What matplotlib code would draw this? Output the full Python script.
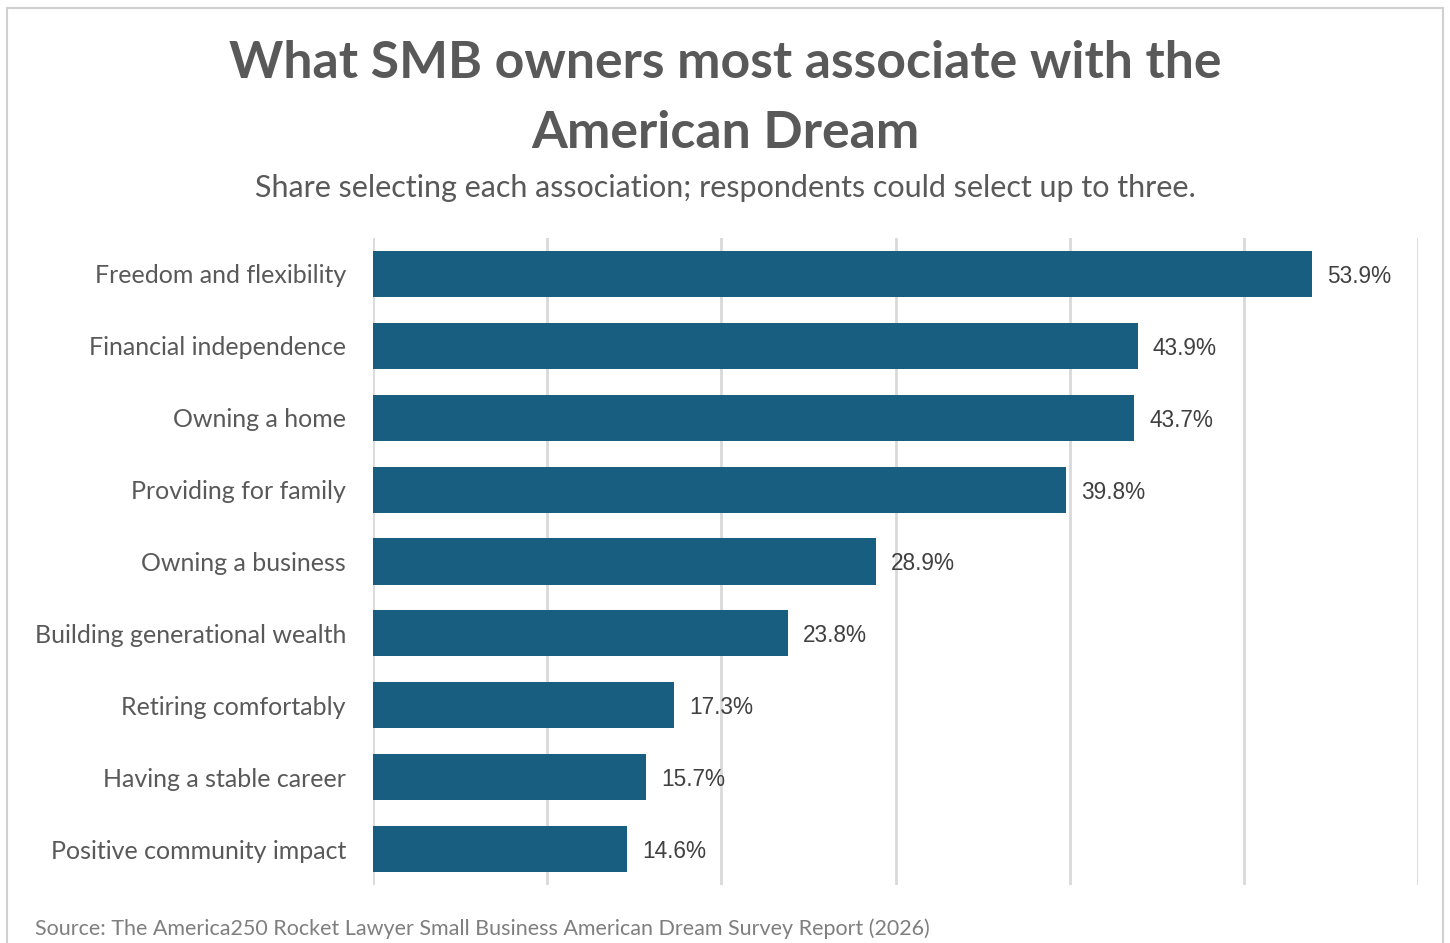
import matplotlib
matplotlib.use("Agg")
import matplotlib.pyplot as plt
from matplotlib.patches import Rectangle

# survey results, share of SMB owners (%)
categories = [
    "Freedom and flexibility",
    "Financial independence",
    "Owning a home",
    "Providing for family",
    "Owning a business",
    "Building generational wealth",
    "Retiring comfortably",
    "Having a stable career",
    "Positive community impact",
]
shares = [53.9, 43.9, 43.7, 39.8, 28.9, 23.8, 17.3, 15.7, 14.6]
x_ticks = [0, 10, 20, 30, 40, 50, 60]

bar_color = "#175e80"
text_color = "#595959"
grid_color = "#d9d9d9"

W, H = 1450, 943
fig = plt.figure(figsize=(W / 100, H / 100), dpi=100)
fig.patch.set_facecolor("white")

# outer frame
fig.add_artist(Rectangle((7 / W, -0.01), 1436 / W, 1.01 - 8 / H,
                         transform=fig.transFigure, fill=False,
                         edgecolor="#d0d0d0", linewidth=1.5))

ax = fig.add_axes([373 / W, 58 / H, 1045 / W, 647 / H])
y = list(range(len(categories)))
ax.barh(y, shares, height=0.64, color=bar_color, zorder=3)
ax.set_xlim(0, 60)
ax.set_ylim(len(categories) - 0.5, -0.5)
ax.set_xticks(x_ticks)
ax.set_xticklabels([])
ax.tick_params(axis="x", length=0)
ax.tick_params(axis="y", length=0, pad=19.5)
ax.grid(axis="x", color=grid_color, linewidth=2, zorder=0)
for s in ax.spines.values():
    s.set_visible(False)
ax.set_yticks(y)
ax.set_yticklabels(categories, fontsize=18, color=text_color, family="Lato")

for yi, v in zip(y, shares):
    ax.annotate(f"{v:.1f}%", (v, yi), xytext=(15, 0), textcoords="offset pixels",
                va="center_baseline", ha="left", fontsize=16.3, color="#404040",
                family="Liberation Sans")

fig.text(0.5, 1 - 63 / H, "What SMB owners most associate with the",
         ha="center", va="center", fontsize=37.3, fontweight="bold",
         color=text_color, family="Lato")
fig.text(0.5, 1 - 133 / H, "American Dream",
         ha="center", va="center", fontsize=37.3, fontweight="bold",
         color=text_color, family="Lato")
fig.text(0.5, 1 - 188 / H, "Share selecting each association; respondents could select up to three.",
         ha="center", va="center", fontsize=22, color=text_color, family="Lato")
fig.text(35 / W, 1 - 929 / H, "Source: The America250 Rocket Lawyer Small Business American Dream Survey Report (2026)",
         ha="left", va="center", fontsize=15.5, color="#7f7f7f", family="Lato")

fig.savefig("out.png", dpi=100, facecolor="white")
